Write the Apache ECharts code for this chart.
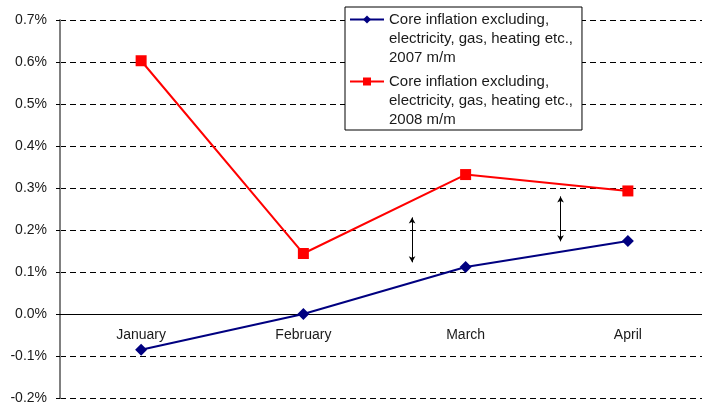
<!DOCTYPE html>
<html>
<head>
<meta charset="utf-8">
<script src="https://cdn.jsdelivr.net/npm/echarts@6/dist/echarts.min.js"></script>
<style>
  html, body { margin: 0; padding: 0; background: #fff; }
  #chart { width: 702px; height: 402px; }
</style>
</head>
<body>
<div id="chart"></div>
<script>
// data
var months = ['January', 'February', 'March', 'April'];
var name2007 = 'Core inflation excluding,\nelectricity, gas, heating etc.,\n2007 m/m';
var name2008 = 'Core inflation excluding,\nelectricity, gas, heating etc.,\n2008 m/m';
var core2007 = [-0.085, 0.0, 0.112, 0.174];
var core2008 = [0.603, 0.144, 0.332, 0.293];
// double arrows: x in category units (0 = January), from / to values
var arrowX = [1.67, 2.585];
var arrowFrom = [0.23, 0.28];
var arrowTo = [0.123, 0.173];

var arrowLines = arrowX.map(function (x, i) {
    return [{ coord: [x, arrowFrom[i]] }, { coord: [x, arrowTo[i]] }];
});

var myChart = echarts.init(document.getElementById('chart'));
var option = {
    animation: false,
    textStyle: { fontFamily: 'Liberation Sans, Arial, sans-serif' },
    grid: [
        { left: 60, top: 20, width: 649, height: 378, outerBoundsMode: 'none', containLabel: false },
        // upper part only: its bottom edge is the 0% line, where the month axis sits
        { left: 60, top: 20, width: 649, height: 294, outerBoundsMode: 'none', containLabel: false }
    ],
    legend: {
        orient: 'vertical',
        left: 345,
        top: 7,
        data: [name2007, name2008],
        // two blank lines on top so the icon lines up with the first text line
        formatter: function (n) { return '\n\n' + n; },
        backgroundColor: '#fff',
        borderColor: '#000',
        borderWidth: 1,
        padding: [-35, 9, 1, 4],
        itemGap: -33,
        itemWidth: 34,
        itemHeight: 10,
        textStyle: {
            fontSize: 15,
            color: '#1a1a1a',
            lineHeight: 19
        }
    },
    xAxis: [{
        type: 'category',
        gridIndex: 0,
        data: months,
        show: false
    }, {
        // helper axis so the arrows can sit between months
        type: 'value',
        gridIndex: 0,
        min: -0.5,
        max: 3.5,
        show: false
    }, {
        type: 'category',
        gridIndex: 1,
        data: months,
        axisLine: { onZero: false, lineStyle: { color: '#000', width: 1 } },
        axisTick: { interval: 0, length: 4, lineStyle: { color: '#808080' } },
        axisLabel: { fontSize: 14, color: '#1a1a1a', margin: 14 },
        splitLine: { show: false }
    }],
    yAxis: [{
        type: 'value',
        gridIndex: 0,
        min: -0.2,
        max: 0.7,
        interval: 0.1,
        axisLine: { show: true, onZero: false, lineStyle: { color: '#808080', width: 2 } },
        axisTick: { show: true, length: 4, lineStyle: { color: '#000' } },
        axisLabel: {
            fontSize: 14,
            color: '#1a1a1a',
            margin: 13,
            formatter: function (v) { return v.toFixed(1) + '%'; }
        },
        splitLine: { lineStyle: { color: '#000', type: [6, 4], width: 1 } }
    }, {
        type: 'value',
        gridIndex: 1,
        min: 0,
        max: 0.7,
        show: false
    }],
    series: [{
        name: name2007,
        type: 'line',
        xAxisIndex: 0,
        yAxisIndex: 0,
        data: core2007,
        symbol: 'diamond',
        symbolSize: 12,
        itemStyle: { color: '#000080' },
        lineStyle: { color: '#000080', width: 2 },
        z: 3
    }, {
        name: name2008,
        type: 'line',
        xAxisIndex: 0,
        yAxisIndex: 0,
        data: core2008,
        symbol: 'rect',
        symbolSize: 11,
        itemStyle: { color: '#ff0000' },
        lineStyle: { color: '#ff0000', width: 2 },
        z: 3
    }, {
        name: 'arrows',
        type: 'line',
        xAxisIndex: 1,
        yAxisIndex: 0,
        data: [],
        markLine: {
            silent: true,
            symbol: ['arrow', 'arrow'],
            symbolSize: [5, 6],
            label: { show: false },
            lineStyle: { color: '#000', width: 1, type: 'solid' },
            data: arrowLines
        }
    }]
};
myChart.setOption(option);
</script>
</body>
</html>
